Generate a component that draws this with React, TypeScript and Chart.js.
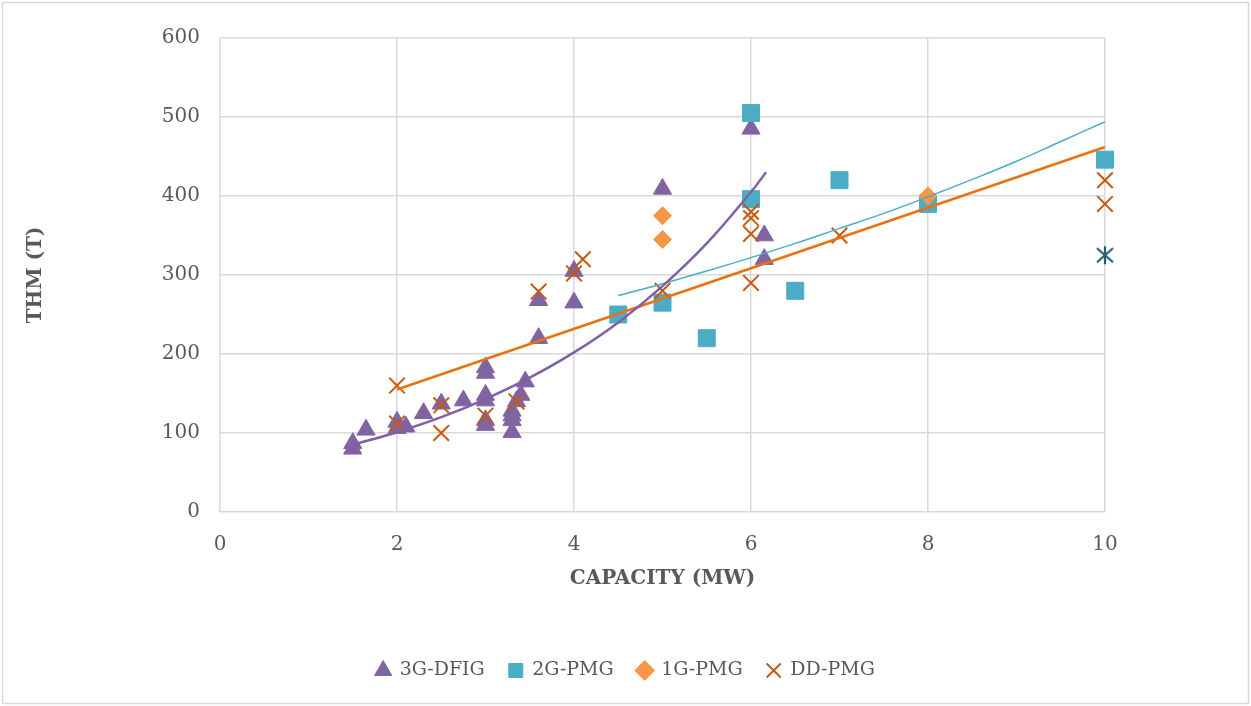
import React, { useEffect, useRef } from "react";
import { Chart, registerables } from "chart.js";

Chart.register(...registerables);

// ---- Data ----
const dfigX = [1.5, 1.5, 1.65, 2, 2, 2.1, 2.3, 2.5, 2.75, 3, 3, 3, 3, 3, 3, 3.3, 3.3, 3.3, 3.3, 3.35, 3.4, 3.45, 3.6, 3.6, 4, 4, 5, 6, 6.15, 6.15];
const dfigY = [80, 87, 104, 106, 114, 108, 125, 137, 141, 110, 116, 141, 148, 176, 183, 101, 116, 122, 128, 140, 148, 165, 220, 268, 265, 305, 409, 485, 320, 350];

const pmg2X = [4.5, 5, 5.5, 6, 6, 6.5, 7, 8, 10];
const pmg2Y = [250, 265, 220, 396, 505, 280, 420, 390, 446];

const pmg1X = [5, 5, 8];
const pmg1Y = [375, 345, 400];

const ddX = [2, 2, 2.5, 2.5, 3, 3.35, 3.6, 4, 4.1, 5, 6, 6, 6, 6, 7, 10, 10];
const ddY = [160, 112, 135, 100, 122, 140, 279, 302, 320, 280, 380, 372, 352, 290, 350, 420, 390];

const extraX = [10];
const extraY = [325];

// trend lines
const dfigTrendX = [1.5, 2, 2.5, 3, 3.5, 4, 4.5, 5, 5.5, 6, 6.17];
const dfigTrendY = [85, 101, 120, 143, 170, 202, 240, 286, 340, 405, 430];

const pmg2TrendX = [4.5, 5, 5.5, 6, 6.5, 7, 7.5, 8, 8.5, 9, 9.5, 10];
const pmg2TrendY = [274, 289, 305, 322, 340, 359, 378, 399, 421, 444, 469, 494];

const ddTrendX = [2, 10];
const ddTrendY = [155, 462];

const yTicks = [0, 100, 200, 300, 400, 500, 600];
const xTicks = [0, 2, 4, 6, 8, 10];

const seriesNames = ["3G-DFIG", "2G-PMG", "1G-PMG", "DD-PMG"];

const zip = (xs: number[], ys: number[]) => xs.map((x, i) => ({ x, y: ys[i] }));

function makeAsterisk(color: string) {
  const c = document.createElement("canvas");
  c.width = 22;
  c.height = 22;
  const g = c.getContext("2d")!;
  g.strokeStyle = color;
  g.lineWidth = 2.2;
  g.lineCap = "butt";
  g.beginPath();
  g.moveTo(11, 2);
  g.lineTo(11, 20);
  g.moveTo(3, 4);
  g.lineTo(19, 18);
  g.moveTo(19, 4);
  g.lineTo(3, 18);
  g.stroke();
  return c;
}

export default function App() {
  const ref = useRef<HTMLCanvasElement | null>(null);

  useEffect(() => {
    document.body.style.margin = "0";
    document.body.style.overflow = "hidden";
    const canvas = ref.current!;
    const font = "'DejaVu Serif', serif";
    const grey = "#595959";

    const bgPlugin = {
      id: "bgBorder",
      beforeDraw(chart: any) {
        const ctx = chart.ctx;
        ctx.save();
        ctx.fillStyle = "#ffffff";
        ctx.fillRect(0, 0, chart.width, chart.height);
        ctx.strokeStyle = "#D9D9D9";
        ctx.lineWidth = 1.5;
        ctx.strokeRect(2.5, 2.5, chart.width - 5, chart.height - 5);
        ctx.restore();
      },
    };

    const chart = new Chart(canvas, {
      type: "scatter",
      data: {
        datasets: [
          {
            label: "trend-dfig",
            data: zip(dfigTrendX, dfigTrendY),
            showLine: true,
            borderColor: "#7E61A6",
            borderWidth: 2.5,
            pointRadius: 0,
            tension: 0.4,
            order: 0,
            clip: false,
          } as any,
          {
            label: "trend-2g",
            data: zip(pmg2TrendX, pmg2TrendY),
            showLine: true,
            borderColor: "#4BACC6",
            borderWidth: 1.5,
            pointRadius: 0,
            tension: 0.4,
            order: 0,
            clip: false,
          },
          {
            label: "trend-dd",
            data: zip(ddTrendX, ddTrendY),
            showLine: true,
            borderColor: "#EA7110",
            borderWidth: 2.5,
            pointRadius: 0,
            order: 0,
            clip: false,
          },
          {
            label: seriesNames[0],
            data: zip(dfigX, dfigY),
            pointStyle: "triangle",
            pointRadius: 10.5,
            backgroundColor: "#8064A2",
            borderColor: "#8064A2",
            borderWidth: 1,
            order: 5,
            clip: false,
          },
          {
            label: seriesNames[1],
            data: zip(pmg2X, pmg2Y),
            pointStyle: "rect",
            pointRadius: 12,
            backgroundColor: "#4BACC6",
            borderColor: "#4BACC6",
            borderWidth: 1,
            order: 4,
            clip: false,
          },
          {
            label: seriesNames[2],
            data: zip(pmg1X, pmg1Y),
            pointStyle: "rectRot",
            pointRadius: 9,
            backgroundColor: "#F79646",
            borderColor: "#F79646",
            borderWidth: 1,
            order: 3,
            clip: false,
          },
          {
            label: seriesNames[3],
            data: zip(ddX, ddY),
            pointStyle: "crossRot",
            pointRadius: 11,
            backgroundColor: "#C55A11",
            borderColor: "#C55A11",
            borderWidth: 2,
            order: 2,
            clip: false,
          },
          {
            label: "extra",
            data: zip(extraX, extraY),
            pointStyle: makeAsterisk("#215E6E") as any,
            pointRadius: 11,
            backgroundColor: "#215E6E",
            borderColor: "#215E6E",
            order: 1,
            clip: false,
          },
        ],
      },
      options: {
        responsive: false,
        animation: false,
        events: [],
        layout: { padding: { top: 38, left: 0, right: 0, bottom: 16 } },
        plugins: {
          tooltip: { enabled: false },
          legend: {
            position: "bottom",
            labels: {
              usePointStyle: true,
              color: grey,
              font: { family: font, size: 19 },
              padding: 24,
              boxWidth: 14,
              boxHeight: 14,
              filter: (item: any) => seriesNames.includes(item.text),
              sort: (a: any, b: any) => a.datasetIndex - b.datasetIndex,
            },
          },
        },
        scales: {
          x: {
            type: "linear",
            min: 0,
            max: 10,
            afterBuildTicks: (s: any) => {
              s.ticks = xTicks.map((v) => ({ value: v }));
            },
            afterFit: (s: any) => {
              s.height = 125;
            },
            grid: { color: "#D9D9D9", lineWidth: 1.5, drawTicks: false },
            border: { display: false },
            ticks: { color: grey, font: { family: font, size: 20 }, padding: 21, maxRotation: 0 },
            title: {
              display: true,
              text: "CAPACITY (MW)",
              color: grey,
              font: { family: font, size: 20, weight: "bold" },
              padding: { top: 0, bottom: 46 },
            },
          },
          y: {
            type: "linear",
            position: "left",
            min: 0,
            max: 600,
            afterBuildTicks: (s: any) => {
              s.ticks = yTicks.map((v) => ({ value: v }));
            },
            afterFit: (s: any) => {
              s.width = 220;
            },
            grid: { color: "#D9D9D9", lineWidth: 1.5, drawTicks: false },
            border: { display: false },
            ticks: { color: grey, font: { family: font, size: 20 }, padding: 20 },
            title: {
              display: true,
              text: "THM (T)",
              color: grey,
              font: { family: font, size: 20, weight: "bold" },
              padding: { top: 24, bottom: 0 },
            },
          },
          y2: {
            type: "linear",
            position: "right",
            min: 0,
            max: 600,
            display: true,
            grid: { display: false, drawTicks: false },
            border: { display: false },
            ticks: { display: false },
            afterFit: (s: any) => {
              s.width = 146;
            },
          },
        },
      },
      plugins: [bgPlugin],
    });
    return () => chart.destroy();
  }, []);

  return (
    <div style={{ width: 1251, height: 706, position: "relative" }}>
      <canvas ref={ref} width={1251} height={706} style={{ display: "block" }} />
    </div>
  );
}
